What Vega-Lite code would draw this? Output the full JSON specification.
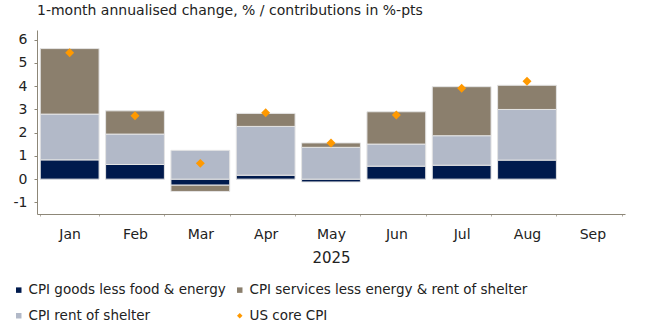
{
  "$schema": "https://vega.github.io/schema/vega-lite/v6.json",
  "width": 588,
  "height": 184,
  "autosize": {"type": "none"},
  "padding": {"left": 37, "top": 30, "right": 23, "bottom": 118},
  "config": {"font": "DejaVu Sans", "view": {"stroke": null}},
  "title": {"text": "1-month annualised change, % / contributions in %-pts", "anchor": "start", "frame": "group", "dx": 0, "offset": 1, "baseline": "alphabetic", "fontSize": 14, "fontWeight": "normal", "color": "#222222"},
  "data": {"values": [
    {"month": "Jan", "series": "CPI goods less food & energy", "value": 0.83},
    {"month": "Jan", "series": "CPI rent of shelter", "value": 1.97},
    {"month": "Jan", "series": "CPI services less energy & rent of shelter", "value": 2.82},
    {"month": "Jan", "series": "US core CPI", "value": 5.44},
    {"month": "Feb", "series": "CPI goods less food & energy", "value": 0.63},
    {"month": "Feb", "series": "CPI rent of shelter", "value": 1.31},
    {"month": "Feb", "series": "CPI services less energy & rent of shelter", "value": 1.0},
    {"month": "Feb", "series": "US core CPI", "value": 2.73},
    {"month": "Mar", "series": "CPI goods less food & energy", "value": -0.26},
    {"month": "Mar", "series": "CPI rent of shelter", "value": 1.24},
    {"month": "Mar", "series": "CPI services less energy & rent of shelter", "value": -0.27},
    {"month": "Mar", "series": "US core CPI", "value": 0.68},
    {"month": "Apr", "series": "CPI goods less food & energy", "value": 0.17},
    {"month": "Apr", "series": "CPI rent of shelter", "value": 2.1},
    {"month": "Apr", "series": "CPI services less energy & rent of shelter", "value": 0.56},
    {"month": "Apr", "series": "US core CPI", "value": 2.86},
    {"month": "May", "series": "CPI goods less food & energy", "value": -0.12},
    {"month": "May", "series": "CPI rent of shelter", "value": 1.37},
    {"month": "May", "series": "CPI services less energy & rent of shelter", "value": 0.19},
    {"month": "May", "series": "US core CPI", "value": 1.56},
    {"month": "Jun", "series": "CPI goods less food & energy", "value": 0.56},
    {"month": "Jun", "series": "CPI rent of shelter", "value": 0.95},
    {"month": "Jun", "series": "CPI services less energy & rent of shelter", "value": 1.39},
    {"month": "Jun", "series": "US core CPI", "value": 2.76},
    {"month": "Jul", "series": "CPI goods less food & energy", "value": 0.6},
    {"month": "Jul", "series": "CPI rent of shelter", "value": 1.27},
    {"month": "Jul", "series": "CPI services less energy & rent of shelter", "value": 2.11},
    {"month": "Jul", "series": "US core CPI", "value": 3.91},
    {"month": "Aug", "series": "CPI goods less food & energy", "value": 0.82},
    {"month": "Aug", "series": "CPI rent of shelter", "value": 2.18},
    {"month": "Aug", "series": "CPI services less energy & rent of shelter", "value": 1.04},
    {"month": "Aug", "series": "US core CPI", "value": 4.21}
  ]},
  "encoding": {
    "x": {
      "field": "month", "type": "nominal", "title": "2025",
      "scale": {"domain": ["Jan", "Feb", "Mar", "Apr", "May", "Jun", "Jul", "Aug", "Sep"], "paddingInner": 0.1, "paddingOuter": 0.05},
      "axis": {"labelAngle": 0, "tickBand": "extent", "tickSize": 2, "domainColor": "#8d8778", "tickColor": "#b0aaa0", "labelFontSize": 14, "labelColor": "#222222", "labelPadding": 11, "titleFontSize": 15, "titleFontWeight": "normal", "titleColor": "#222222", "titlePadding": 9, "grid": false}
    },
    "y": {
      "field": "value", "type": "quantitative", "title": null,
      "scale": {"domain": [-1.5, 6.42], "nice": false, "zero": false},
      "axis": {"values": [-1, 0, 1, 2, 3, 4, 5, 6], "labelExpr": "'' + datum.value", "grid": false, "tickSize": 3, "domainColor": "#8d8778", "tickColor": "#8d8778", "labelFontSize": 14, "labelColor": "#222222", "labelPadding": 7}
    }
  },
  "layer": [
    {
      "transform": [{"filter": "datum.series !== 'US core CPI'"}],
      "mark": {"type": "bar", "stroke": "#e4e4e4", "strokeWidth": 1},
      "encoding": {
        "y": {"field": "value", "type": "quantitative", "stack": "zero", "title": null,
          "scale": {"domain": [-1.5, 6.42], "nice": false, "zero": false},
          "axis": {"values": [-1, 0, 1, 2, 3, 4, 5, 6], "labelExpr": "'' + datum.value", "grid": false, "tickSize": 3, "domainColor": "#8d8778", "tickColor": "#8d8778", "labelFontSize": 14, "labelColor": "#222222", "labelPadding": 7}},
        "order": {"field": "series", "type": "ordinal", "sort": "ascending"},
        "color": {
          "field": "series", "type": "nominal",
          "scale": {"domain": ["CPI goods less food & energy", "CPI services less energy & rent of shelter", "CPI rent of shelter", "US core CPI"], "range": ["#001a4d", "#8b7f6d", "#b2b9c8", "#ff9900"]},
          "legend": {"orient": "none", "legendX": -25, "legendY": 253, "padding": 0, "columns": 2, "direction": "horizontal", "title": null, "symbolType": "square", "symbolSize": 30, "labelFontSize": 13.5, "labelLimit": 0, "labelColor": "#222222", "labelOffset": 3, "rowPadding": 11, "columnPadding": 7, "symbolStrokeWidth": 0}
        }
      }
    },
    {
      "transform": [{"filter": "datum.series === 'US core CPI'"}],
      "mark": {"type": "point", "shape": "diamond", "filled": true, "size": 80, "opacity": 1},
      "encoding": {
        "color": {"field": "series", "type": "nominal"},
        "shape": {"field": "series", "type": "nominal",
          "scale": {"domain": ["CPI goods less food & energy", "CPI services less energy & rent of shelter", "CPI rent of shelter", "US core CPI"], "range": ["square", "square", "square", "diamond"]}}
      }
    }
  ]
}
